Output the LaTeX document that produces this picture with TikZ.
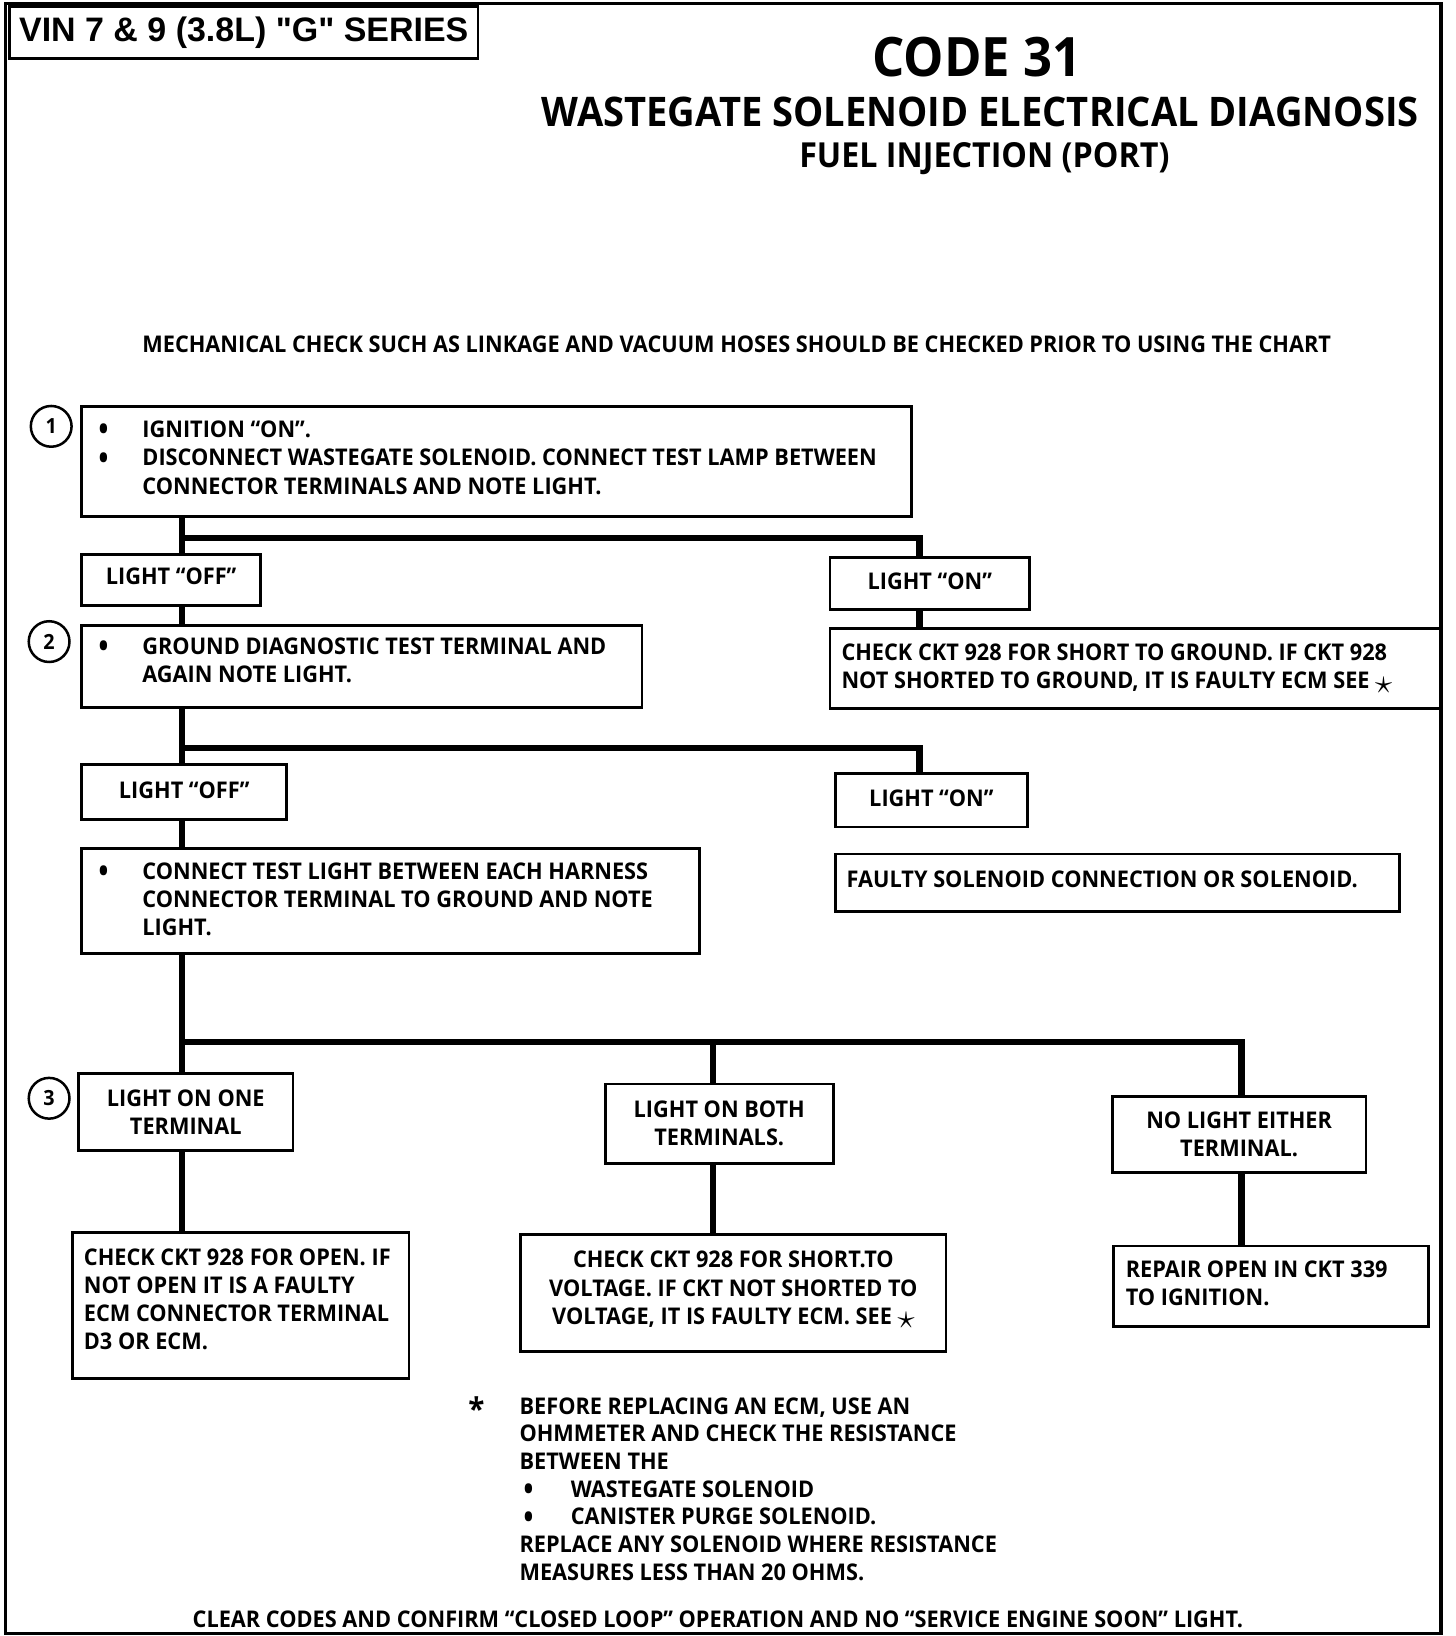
\documentclass[tikz,border=0pt]{standalone}
\usepackage{fontspec}
\usetikzlibrary{positioning}
\newfontfamily\chartfont{Open Sans}[FakeStretch=0.945]
\newfontfamily\titlefont{Open Sans}[FakeStretch=0.935]
\newfontfamily\vinfont{Liberation Sans}
\newcommand{\bigdot}{\smash{\raisebox{-3.2pt}{\scalebox{1.2}[1.4]{\textbullet}}}}
\newcommand{\bul}{\makebox[42pt][l]{\bigdot}}
\newcommand{\seestar}{\raisebox{-4pt}{\scalebox{1.6}{$\star$}}}
\newcommand{\up}[1]{\rule[-#1pt]{0pt}{#1pt}}
\begin{document}
\begin{tikzpicture}[x=1pt,y=-1pt]
    \tikzset{
        box/.style={draw, line width=2.6pt, anchor=north west, inner ysep=0pt,
            font=\chartfont\bfseries\fontsize{22}{27}\selectfont},
        leftbox/.style={box, align=flush left, inner xsep=#1},
        midbox/.style={box, align=flush center, inner xsep=0pt},
        link/.style={line width=6pt},
        num/.style={draw, circle, line width=2.4pt, minimum size=39pt, inner sep=0pt,
            font=\chartfont\bfseries\fontsize{20}{20}\selectfont}}
    \useasboundingbox (0,0) rectangle (1393.3,1565.6);
    \draw [line width=3pt](5,3) rectangle (1379,1563);
    % header
    \node [draw, line width=2.6pt, anchor=north west, minimum width=448pt, minimum height=50pt,
        inner sep=0pt, font=\vinfont\bfseries\fontsize{32.5}{33}\selectfont] (vin) at (8,5)
        {VIN 7 \& 9 (3.8L) "G" SERIES};
    \node [font=\titlefont\bfseries\fontsize{52}{52}\selectfont] (code) at (935,55) {CODE 31};
    \node [font=\titlefont\bfseries\fontsize{39}{39}\selectfont] (title) at (938,107)
        {WASTEGATE SOLENOID ELECTRICAL DIAGNOSIS};
    \node [font=\titlefont\bfseries\fontsize{33}{33}\selectfont] (sub) at (942,152)
        {FUEL INJECTION (PORT)};
    \node [font=\chartfont\bfseries\fontsize{22}{22}\selectfont] (mech) at (705,329)
        {MECHANICAL CHECK SUCH AS LINKAGE AND VACUUM HOSES SHOULD BE CHECKED PRIOR TO USING THE CHART};
    % step 1
    \node [leftbox=16pt, text width=762pt, minimum height=105pt] (step1) at (77,388)
        {\bul IGNITION “ON”.\\
         \bul DISCONNECT WASTEGATE SOLENOID. CONNECT TEST LAMP BETWEEN\\
         \hspace*{42pt}CONNECTOR TERMINALS AND NOTE LIGHT.\up{8}};
    \node [num] (n1) at (49,408) {1};
    \node [midbox, minimum width=171pt, minimum height=49pt] (offA) at (77,529) {LIGHT “OFF”\up{6}};
    \node [midbox, minimum width=191pt, minimum height=50pt] (onA) at (793,532) {LIGHT “ON”\up{4}};
    \node [leftbox=11pt, text width=563pt, minimum height=77pt] (gnd) at (793,600)
        {CHECK CKT 928 FOR SHORT TO GROUND. IF CKT 928\\
         NOT SHORTED TO GROUND, IT IS FAULTY ECM SEE \seestar};
    % step 2
    \node [leftbox=16pt, text width=504pt, minimum height=79pt] (step2) at (77,597)
        {\bul GROUND DIAGNOSTIC TEST TERMINAL AND\\
         \hspace*{42pt}AGAIN NOTE LIGHT.\up{12}};
    \node [num] (n2) at (47,614) {2};
    \node [midbox, minimum width=196pt, minimum height=53pt] (offB) at (77,730) {LIGHT “OFF”\up{4}};
    \node [midbox, minimum width=184pt, minimum height=51pt] (onB) at (798,739) {LIGHT “ON”\up{4}};
    \node [leftbox=11pt, text width=518pt, minimum height=55pt] (faulty) at (798,816)
        {FAULTY SOLENOID CONNECTION OR SOLENOID.\up{6}};
    \node [leftbox=16pt, text width=559pt, minimum height=100pt] (harness) at (77,811)
        {\bul CONNECT TEST LIGHT BETWEEN EACH HARNESS\\
         \hspace*{42pt}CONNECTOR TERMINAL TO GROUND AND NOTE\\
         \hspace*{42pt}LIGHT.\up{4}};
    % step 3
    \node [midbox, minimum width=205pt, minimum height=74pt] (oneT) at (74,1026)
        {LIGHT ON ONE\\ TERMINAL};
    \node [num] (n3) at (47,1051) {3};
    \node [midbox, minimum width=218pt, minimum height=76pt] (bothT) at (578,1036)
        {LIGHT ON BOTH\\ TERMINALS.};
    \node [midbox, minimum width=243pt, minimum height=73pt] (noT) at (1063,1048)
        {NO LIGHT EITHER\\ TERMINAL.};
    \node [leftbox=11pt, text width=300pt, minimum height=140pt] (openC) at (68,1178)
        {CHECK CKT 928 FOR OPEN. IF\\ NOT OPEN IT IS A FAULTY\\
         ECM CONNECTOR TERMINAL\\ D3 OR ECM.\up{12}};
    \node [midbox, minimum width=407pt, minimum height=112pt] (voltC) at (497,1180)
        {CHECK CKT 928 FOR SHORT.TO\\ VOLTAGE. IF CKT NOT SHORTED TO\\
         VOLTAGE, IT IS FAULTY ECM. SEE \seestar\up{10}};
    \node [leftbox=12pt, text width=278pt, minimum height=77pt] (repC) at (1064,1191)
        {REPAIR OPEN IN CKT 339\\ TO IGNITION.\up{5}};
    % footnote
    \node [font=\chartfont\bfseries\fontsize{30}{30}\selectfont] (star) at (456,1348) {*};
    \node [anchor=north west, inner sep=0pt, align=flush left,
        font=\chartfont\bfseries\fontsize{22}{26.5}\selectfont] (note) at (497,1337)
        {BEFORE REPLACING AN ECM, USE AN\\ OHMMETER AND CHECK THE RESISTANCE\\
         BETWEEN THE\\
         \hspace*{4pt}\makebox[45pt][l]{\bigdot}WASTEGATE SOLENOID\\
         \hspace*{4pt}\makebox[45pt][l]{\bigdot}CANISTER PURGE SOLENOID.\\
         REPLACE ANY SOLENOID WHERE RESISTANCE\\ MEASURES LESS THAN 20 OHMS.};
    \node [font=\chartfont\bfseries\fontsize{22}{22}\selectfont] (clear) at (687,1550)
        {CLEAR CODES AND CONFIRM “CLOSED LOOP” OPERATION AND NO “SERVICE ENGINE SOON” LIGHT.};
    % connectors
    \coordinate (j1) at (174,515);
    \coordinate (k1) at (880,515);
    \draw [link] (step1.south -| j1) -- (offA.north -| j1);
    \draw [link] (j1) -- (k1) -- (onA.north -| k1);
    \draw [link] (offA.south -| j1) -- (step2.north -| j1);
    \draw [link] (onA.south -| k1) -- (gnd.north -| k1);
    \coordinate (j2) at (174,716);
    \coordinate (k2) at (880,716);
    \draw [link] (step2.south -| j2) -- (offB.north -| j2);
    \draw [link] (j2) -- (k2) -- (onB.north -| k2);
    \draw [link] (offB.south -| j2) -- (harness.north -| j2);
    \coordinate (j3) at (174,997);
    \coordinate (k3) at (682,997);
    \coordinate (m3) at (1188,997);
    \draw [link] (harness.south -| j3) -- (oneT.north -| j3);
    \draw [link] (j3) -- (m3) -- (noT.north -| m3);
    \draw [link] (k3) -- (bothT.north -| k3);
    \draw [link] (oneT.south -| j3) -- (openC.north -| j3);
    \draw [link] (bothT.south -| k3) -- (voltC.north -| k3);
    \draw [link] (noT.south -| m3) -- (repC.north -| m3);
\end{tikzpicture}
\end{document}
